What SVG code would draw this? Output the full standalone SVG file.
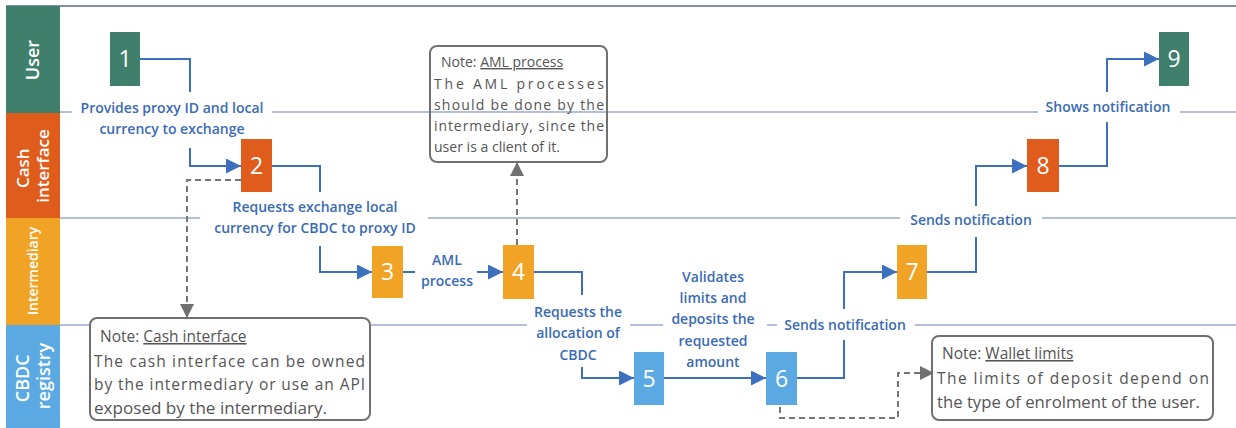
<svg xmlns="http://www.w3.org/2000/svg" width="1236" height="428" viewBox="0 0 1236 428">
  <style>
    .lane-line { stroke: #9aa8cc; stroke-width: 1.5; fill: none; }
    .lane-title { font-family: "Open Sans", "Noto Sans", sans-serif; font-weight: 600; fill: #ffffff; text-anchor: middle; }
    .box-num { font-family: "Open Sans", "Noto Sans", sans-serif; font-size: 23px; fill: #ffffff; text-anchor: middle; }
    .flow { stroke: #3d6fbf; stroke-width: 2; fill: none; }
    .dash { stroke: #757575; stroke-width: 2; fill: none; stroke-dasharray: 6 4; }
    .label { font-family: "Open Sans", "Noto Sans", sans-serif; font-weight: 600; font-size: 14px; fill: #3a6bb5; text-anchor: middle; }
    .gap { fill: #ffffff; }
    .note { stroke: #707070; stroke-width: 2; }
    .note-text { font-family: "Open Sans", "Noto Sans", sans-serif; fill: #555555; }
    .green { fill: #3f7f6c; }
    .red { fill: #e05c1d; }
    .amber { fill: #f1a326; }
    .sky { fill: #5ba9e2; }
  </style>
  <defs>
    <marker id="arrow-blue" viewBox="0 0 10 10" refX="10" refY="5" markerWidth="8" markerHeight="7.5" markerUnits="strokeWidth" orient="auto">
      <path d="M0,0 L10,5 L0,10 z" fill="#3d6fbf"/>
    </marker>
    <marker id="arrow-gray" viewBox="0 0 10 10" refX="10" refY="5" markerWidth="7" markerHeight="7" markerUnits="strokeWidth" orient="auto">
      <path d="M0,0 L10,5 L0,10 z" fill="#707070"/>
    </marker>
  </defs>

  <rect width="1236" height="428" fill="#ffffff"/>

  <!-- swimlanes -->
  <g id="lanes">
    <line x1="6" y1="6" x2="1236" y2="6" stroke="#7f8fa8" stroke-width="2"/>
    <line class="lane-line" x1="60" y1="112" x2="1236" y2="112"/>
    <line class="lane-line" x1="60" y1="218" x2="1236" y2="218"/>
    <line class="lane-line" x1="60" y1="325" x2="1236" y2="325"/>
    <g id="lane-user">
      <rect class="green" x="6" y="6" width="54" height="107"/>
      <text class="lane-title" font-size="18" transform="translate(33,60) rotate(-90)" dy="6">User</text>
    </g>
    <g id="lane-cash">
      <rect class="red" x="6" y="113" width="54" height="105"/>
      <text class="lane-title" font-size="17" transform="translate(33,166) rotate(-90)">
        <tspan x="0" y="-4">Cash</tspan>
        <tspan x="0" y="16">interface</tspan>
      </text>
    </g>
    <g id="lane-intermediary">
      <rect class="amber" x="6" y="218" width="54" height="107"/>
      <text class="lane-title" font-size="14" font-weight="400" transform="translate(33,271) rotate(-90)" dy="5">Intermediary</text>
    </g>
    <g id="lane-registry">
      <rect class="sky" x="6" y="325" width="54" height="103"/>
      <text class="lane-title" font-size="18" font-weight="400" transform="translate(33,376) rotate(-90)">
        <tspan x="0" y="-4">CBDC</tspan>
        <tspan x="0" y="17">registry</tspan>
      </text>
    </g>
  </g>

  <!-- flow connectors and their labels -->
  <g id="connectors">
    <!-- label backgrounds cut the lane lines -->
    <rect class="gap" x="72" y="96" width="200" height="42"/>
    <rect class="gap" x="1038" y="97" width="142" height="22"/>
    <rect class="gap" x="200" y="196" width="228" height="44"/>
    <rect class="gap" x="900" y="209" width="142" height="22"/>
    <rect class="gap" x="527" y="300" width="103" height="64"/>
    <rect class="gap" x="663" y="264" width="104" height="106"/>
    <rect class="gap" x="777" y="314" width="138" height="22"/>

    <!-- 1 -> 2 -->
    <path class="flow" d="M140,59 H190 V92"/>
    <path class="flow" d="M190,148 V166 H241" marker-end="url(#arrow-blue)"/>
    <text class="label" x="172" y="113">Provides proxy ID and local</text>
    <text class="label" x="172" y="134">currency to exchange</text>

    <!-- 2 -> 3 -->
    <path class="flow" d="M272,166 H320 V192"/>
    <path class="flow" d="M320,246 V272 H372" marker-end="url(#arrow-blue)"/>
    <text class="label" x="315" y="212">Requests exchange local</text>
    <text class="label" x="315" y="233">currency for CBDC to proxy ID</text>

    <!-- 3 -> 4 -->
    <path class="flow" d="M403,272 H415"/>
    <path class="flow" d="M477,272 H503" marker-end="url(#arrow-blue)"/>
    <text class="label" x="447" y="265">AML</text>
    <text class="label" x="447" y="286">process</text>

    <!-- 4 -> 5 -->
    <path class="flow" d="M534,272 H582 V295"/>
    <path class="flow" d="M582,367 V378 H634" marker-end="url(#arrow-blue)"/>
    <text class="label" x="578" y="317">Requests the</text>
    <text class="label" x="578" y="338">allocation of</text>
    <text class="label" x="578" y="360">CBDC</text>

    <!-- 5 -> 6 -->
    <path class="flow" d="M664,378 H766" marker-end="url(#arrow-blue)"/>
    <text class="label" x="713" y="282">Validates</text>
    <text class="label" x="713" y="303">limits and</text>
    <text class="label" x="713" y="324">deposits the</text>
    <text class="label" x="713" y="346">requested</text>
    <text class="label" x="713" y="367">amount</text>

    <!-- 6 -> 7 -->
    <path class="flow" d="M797,378 H844 V340"/>
    <path class="flow" d="M844,309 V272 H897" marker-end="url(#arrow-blue)"/>
    <text class="label" x="845" y="330">Sends notification</text>

    <!-- 7 -> 8 -->
    <path class="flow" d="M927,272 H976 V237"/>
    <path class="flow" d="M976,206 V166 H1027" marker-end="url(#arrow-blue)"/>
    <text class="label" x="971" y="225">Sends notification</text>

    <!-- 8 -> 9 -->
    <path class="flow" d="M1059,166 H1107 V122"/>
    <path class="flow" d="M1107,92 V59 H1159" marker-end="url(#arrow-blue)"/>
    <text class="label" x="1108" y="112">Shows notification</text>

    <!-- note links -->
    <path class="dash" d="M241,180 H187 V318" marker-end="url(#arrow-gray)"/>
    <path class="dash" d="M517,245 V162" marker-end="url(#arrow-gray)"/>
    <path class="dash" d="M780,407 V418 H898 V373 H934" marker-end="url(#arrow-gray)"/>
  </g>

  <!-- process steps -->
  <g id="step-1"><rect class="green" x="110" y="32" width="30" height="54"/><text class="box-num" x="125" y="67">1</text></g>
  <g id="step-2"><rect class="red" x="241" y="139" width="31" height="53"/><text class="box-num" x="256.5" y="174">2</text></g>
  <g id="step-3"><rect class="amber" x="372" y="246" width="31" height="52"/><text class="box-num" x="387.5" y="280">3</text></g>
  <g id="step-4"><rect class="amber" x="503" y="245" width="31" height="54"/><text class="box-num" x="518.5" y="280">4</text></g>
  <g id="step-5"><rect class="sky" x="634" y="352" width="30" height="53"/><text class="box-num" x="649" y="387">5</text></g>
  <g id="step-6"><rect class="sky" x="766" y="352" width="31" height="53"/><text class="box-num" x="781.5" y="387">6</text></g>
  <g id="step-7"><rect class="amber" x="897" y="245" width="30" height="54"/><text class="box-num" x="912" y="280">7</text></g>
  <g id="step-8"><rect class="red" x="1027" y="139" width="32" height="53"/><text class="box-num" x="1043" y="174">8</text></g>
  <g id="step-9"><rect class="green" x="1159" y="32" width="30" height="54"/><text class="box-num" x="1174" y="67">9</text></g>

  <!-- notes -->
  <g id="note-aml">
    <rect class="note" x="430" y="46" width="177" height="116" rx="7" fill="none"/>
    <text class="note-text" font-size="14">
      <tspan x="441" y="67">Note: <tspan text-decoration="underline">AML process</tspan></tspan>
      <tspan x="434" y="89" textLength="170" lengthAdjust="spacing">The AML processes</tspan>
      <tspan x="434" y="110" textLength="170" lengthAdjust="spacing">should be done by the</tspan>
      <tspan x="434" y="131" textLength="170" lengthAdjust="spacing">intermediary, since the</tspan>
      <tspan x="434" y="152" textLength="126" lengthAdjust="spacingAndGlyphs">user is a client of it.</tspan>
    </text>
  </g>
  <g id="note-cash">
    <rect class="note" x="90" y="318" width="280" height="102" rx="7" fill="#ffffff"/>
    <text class="note-text" font-size="15.5">
      <tspan x="100" y="342">Note: <tspan text-decoration="underline">Cash interface</tspan></tspan>
      <tspan x="94" y="367" textLength="271" lengthAdjust="spacing">The cash interface can be owned</tspan>
      <tspan x="94" y="390" textLength="271" lengthAdjust="spacing">by the intermediary or use an API</tspan>
      <tspan x="94" y="414" textLength="233" lengthAdjust="spacingAndGlyphs">exposed by the intermediary.</tspan>
    </text>
  </g>
  <g id="note-wallet">
    <rect class="note" x="932" y="336" width="281" height="84" rx="7" fill="#ffffff"/>
    <text class="note-text" font-size="15.5">
      <tspan x="942" y="359">Note: <tspan text-decoration="underline">Wallet limits</tspan></tspan>
      <tspan x="937" y="384" textLength="272" lengthAdjust="spacing">The limits of deposit depend on</tspan>
      <tspan x="937" y="408" textLength="263" lengthAdjust="spacingAndGlyphs">the type of enrolment of the user.</tspan>
    </text>
  </g>
</svg>
